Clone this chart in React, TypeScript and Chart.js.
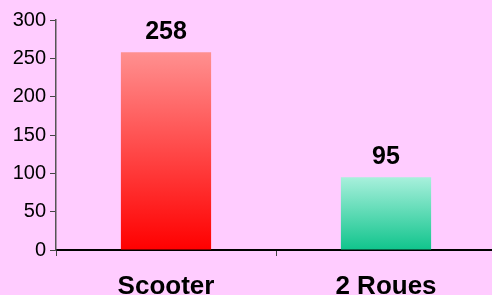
import React, { useEffect, useRef } from "react";
import { Chart, registerables } from "chart.js";

Chart.register(...registerables);

const categories = ["Scooter", "2 Roues"];
const values = [258, 95];
const topColors = ["#FF9090", "#A8F0DC"];
const bottomColors = ["#FF0000", "#10C48C"];
const yTicks = [0, 50, 100, 150, 200, 250, 300];

const FONT = "'Liberation Sans', Arial, sans-serif";

const valueLabels = {
  id: "valueLabels",
  afterDatasetsDraw(chart: any) {
    const ctx = chart.ctx;
    const meta = chart.getDatasetMeta(0);
    ctx.save();
    ctx.font = `bold 25px ${FONT}`;
    ctx.fillStyle = "#000";
    ctx.textAlign = "center";
    ctx.textBaseline = "alphabetic";
    meta.data.forEach((bar: any, i: number) => {
      ctx.fillText(String(values[i]), bar.x, bar.y - 13);
    });
    ctx.restore();
  },
};

export default function App() {
  const ref = useRef<HTMLCanvasElement>(null);
  useEffect(() => {
    document.body.style.margin = "0";
    document.body.style.overflow = "hidden";
    document.body.style.background = "#FFCCFF";
    const chart = new Chart(ref.current!, {
      type: "bar",
      data: {
        labels: categories,
        datasets: [
          {
            data: values,
            backgroundColor: (c: any) => {
              const ch = c.chart;
              const y = ch.scales && ch.scales.y;
              if (!ch.chartArea || !y || c.dataIndex === undefined) return topColors[c.dataIndex || 0];
              const top = y.getPixelForValue(values[c.dataIndex]);
              const bottom = y.getPixelForValue(0);
              const g = ch.ctx.createLinearGradient(0, top, 0, bottom);
              g.addColorStop(0, topColors[c.dataIndex]);
              g.addColorStop(1, bottomColors[c.dataIndex]);
              return g;
            },
            borderWidth: 0,
            categoryPercentage: 1,
            barPercentage: 0.41,
          },
        ],
      },
      options: {
        responsive: false,
        animation: false,
        layout: { padding: { top: 20, right: 0, left: 0, bottom: 0 } },
        plugins: { legend: { display: false }, tooltip: { enabled: false } },
        scales: {
          x: {
            grid: {
              offset: true,
              drawOnChartArea: false,
              tickLength: 6,
              color: "#444",
              tickColor: "#444",
            },
            border: { color: "#000", width: 2 },
            ticks: {
              color: "#000",
              font: { family: FONT, size: 26, weight: "bold" },
              padding: 15,
            },
            afterFit: (s: any) => {
              s.height = 45;
            },
          },
          y: {
            min: 0,
            max: 300,
            afterBuildTicks: (s: any) => {
              s.ticks = yTicks.map((v) => ({ value: v }));
            },
            grid: {
              drawOnChartArea: false,
              tickLength: 6,
              tickColor: "#444",
            },
            border: { color: "#555", width: 1.5 },
            ticks: {
              color: "#000",
              font: { family: FONT, size: 20 },
              padding: 4,
            },
            afterFit: (s: any) => {
              s.width = 56;
            },
          },
        },
      },
      plugins: [valueLabels],
    });
    return () => chart.destroy();
  }, []);
  return (
    <div style={{ width: 496, height: 295, background: "#FFCCFF" }}>
      <canvas ref={ref} width={496} height={295} />
    </div>
  );
}
